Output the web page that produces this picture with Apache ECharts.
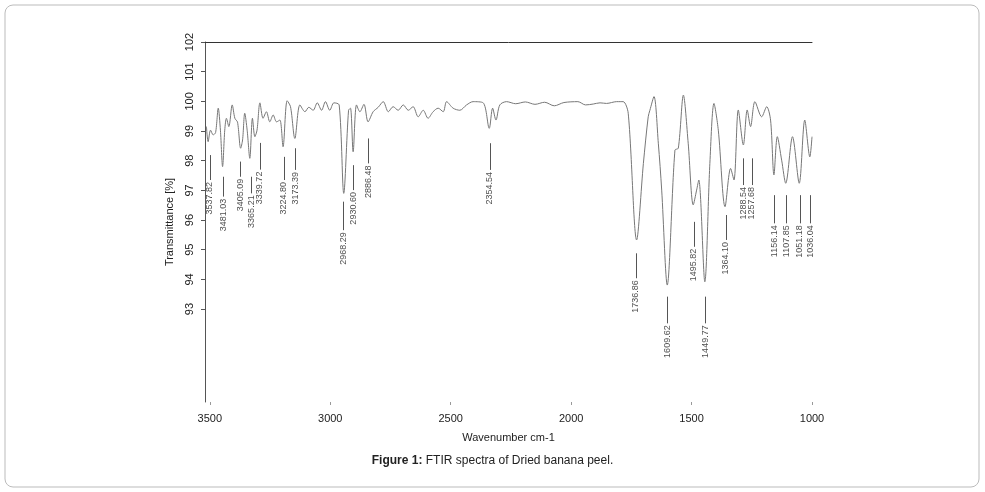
<!DOCTYPE html>
<html>
<head>
<meta charset="utf-8">
<script src="https://cdn.jsdelivr.net/npm/echarts@6/dist/echarts.min.js"></script>
<style>html,body{margin:0;padding:0;background:#fff}#chart{width:985px;height:492px}</style>
</head>
<body>
<div id="chart"></div>
<script>
// spectrum: [wavenumber, transmittance]
const spectrum = [
  [3514, 99.15], [3507, 98.64], [3497, 99.03], [3486, 98.87], [3476, 98.95], [3465, 99.77],
  [3456, 99.03], [3447, 97.80], [3438, 99.03], [3431, 99.43], [3421, 99.15], [3407, 99.88],
  [3396, 99.43], [3385, 99.30], [3372, 98.42], [3364, 98.70], [3355, 99.60], [3345, 99.03],
  [3334, 98.08], [3323, 99.43], [3313, 98.81], [3304, 99.03], [3292, 99.95], [3279, 99.43],
  [3265, 99.65], [3251, 99.31], [3237, 99.54], [3223, 99.31], [3209, 99.37], [3196, 98.47],
  [3179, 100.02], [3165, 99.82], [3147, 98.75], [3126, 99.88], [3105, 99.65], [3089, 99.80],
  [3071, 99.70], [3054, 99.95], [3036, 99.70], [3020, 99.99], [3002, 99.70], [2985, 99.95],
  [2963, 99.88], [2944, 96.90], [2924, 99.70], [2916, 99.77], [2905, 98.30], [2891, 99.88],
  [2877, 99.65], [2860, 99.90], [2843, 99.31], [2822, 99.65], [2801, 99.80], [2780, 99.99],
  [2759, 99.65], [2739, 99.82], [2718, 99.70], [2697, 99.88], [2676, 99.70], [2656, 99.82],
  [2635, 99.48], [2614, 99.70], [2594, 99.43], [2573, 99.65], [2552, 99.77], [2531, 99.65],
  [2517, 99.99], [2490, 99.77], [2462, 99.70], [2434, 99.88], [2407, 99.99], [2365, 99.95],
  [2340, 99.09], [2326, 99.77], [2312, 99.37], [2296, 99.88], [2268, 99.99], [2230, 99.92],
  [2190, 99.98], [2150, 99.90], [2110, 99.97], [2070, 99.85], [2030, 99.96], [1972, 99.99],
  [1940, 99.88], [1908, 99.91], [1880, 99.95], [1853, 99.93], [1811, 99.99], [1784, 99.99],
  [1763, 99.60], [1728, 95.33], [1700, 97.91], [1680, 99.48], [1673, 99.70], [1656, 100.16],
  [1638, 98.59], [1624, 97.01], [1601, 93.81], [1569, 98.36], [1555, 98.42], [1534, 100.21],
  [1514, 98.59], [1493, 96.51], [1479, 97.01], [1470, 97.35], [1445, 93.92], [1424, 97.91],
  [1407, 99.93], [1389, 99.03], [1361, 96.45], [1338, 97.74], [1324, 97.35], [1306, 99.71],
  [1285, 98.53], [1269, 99.71], [1255, 99.15], [1237, 99.99], [1209, 99.48], [1188, 99.82],
  [1172, 99.37], [1158, 97.52], [1144, 98.81], [1126, 98.02], [1109, 97.24], [1081, 98.81],
  [1053, 97.24], [1030, 99.37], [1009, 98.13], [1000, 98.81]
];

// peak labels: text, x position on plot, line top, line bottom
const peakLabels = ['3537.82', '3481.03', '3405.09', '3365.21', '3339.72', '3224.80', '3173.39',
  '2968.29', '2930.60', '2886.48', '2354.54', '1736.86', '1609.62', '1495.82', '1449.77',
  '1364.10', '1288.54', '1257.68', '1156.14', '1107.85', '1051.18', '1036.04'];
const peakX = [3500, 3445, 3372, 3327, 3292, 3193, 3144, 2944, 2905, 2843, 2337, 1731, 1601,
  1490, 1443, 1358, 1285, 1250, 1156, 1105, 1050, 1008];
const lineTop = [98.19, 97.46, 97.97, 97.46, 98.6, 98.13, 98.42, 96.62, 97.85, 98.75, 98.59,
  94.88, 93.42, 95.94, 93.42, 96.17, 98.08, 98.08, 96.84, 96.84, 96.84, 96.84];
const lineBottom = [97.35, 96.79, 97.46, 96.9, 97.7, 97.35, 97.69, 95.66, 97.01, 97.91, 97.69,
  94.04, 92.52, 95.1, 92.52, 95.33, 97.18, 97.18, 95.89, 95.89, 95.89, 95.89];

// tick labels
const xTicks = [1000, 1500, 2000, 2500, 3000, 3500];
const yTicks = [93, 94, 95, 96, 97, 98, 99, 100, 101, 102];

const chart = echarts.init(document.getElementById('chart'));

const option = {
  animation: false,
  textStyle: { fontFamily: 'Liberation Sans, Arial, sans-serif' },
  graphic: [
    {
      type: 'rect',
      shape: { x: 5, y: 5, width: 974, height: 482, r: 8 },
      style: { fill: 'none', stroke: '#bbb', lineWidth: 1 }
    },
    {
      type: 'text',
      left: 'center',
      top: 455,
      style: {
        text: '{b|Figure 1:} FTIR spectra of Dried banana peel.',
        font: '12px Liberation Sans, Arial, sans-serif',
        fill: '#222',
        rich: { b: { fontWeight: 'bold', fontSize: 12, fill: '#222' } }
      }
    }
  ],
  grid: { left: 205, right: 173, top: 42, bottom: 90 },
  xAxis: [
    {
      type: 'value',
      min: 1000,
      max: 3520,
      inverse: true,
      name: 'Wavenumber cm-1',
      nameLocation: 'middle',
      nameGap: 30,
      nameTextStyle: { fontSize: 11, color: '#222' },
      axisLine: { show: false },
      axisTick: { show: true, length: 3, lineStyle: { color: '#999' }, customValues: xTicks },
      axisLabel: { fontSize: 11, color: '#222', margin: 11, customValues: xTicks,
        formatter: v => String(v) },
      splitLine: { show: false }
    },
    {
      type: 'value',
      position: 'top',
      min: 1000,
      max: 3520,
      inverse: true,
      axisLine: { show: true, lineStyle: { color: '#333', width: 1 } },
      axisTick: { show: false },
      axisLabel: { show: false },
      splitLine: { show: false }
    }
  ],
  yAxis: {
    type: 'value',
    min: 89.87,
    max: 102,
    name: 'Transmittance [%]',
    nameLocation: 'middle',
    nameRotate: 90,
    nameGap: 30,
    nameTextStyle: { fontSize: 11, color: '#222' },
    axisLine: { show: true, lineStyle: { color: '#555', width: 1 } },
    axisTick: { show: true, length: 4, lineStyle: { color: '#555' }, customValues: yTicks },
    axisLabel: { rotate: 90, fontSize: 11, color: '#222', margin: 10, customValues: yTicks },
    splitLine: { show: false }
  },
  series: [
    {
      type: 'line',
      data: spectrum,
      smooth: 0.3,
      showSymbol: false,
      lineStyle: { color: '#777', width: 1 },
      markLine: {
        silent: true,
        symbol: 'none',
        label: { show: false },
        lineStyle: { color: '#555', width: 1, type: 'solid' },
        data: peakX.map((x, i) => [{ coord: [x, lineTop[i]] }, { coord: [x, lineBottom[i]] }])
      }
    },
    {
      type: 'scatter',
      symbolSize: 0,
      data: peakX.map((x, i) => [x, lineBottom[i], peakLabels[i]]),
      label: {
        show: true,
        rotate: 90,
        position: 'bottom',
        distance: 2,
        align: 'right',
        verticalAlign: 'middle',
        fontSize: 9,
        color: '#222',
        formatter: p => p.data[2]
      }
    }
  ]
};

chart.setOption(option);
</script>
</body>
</html>
